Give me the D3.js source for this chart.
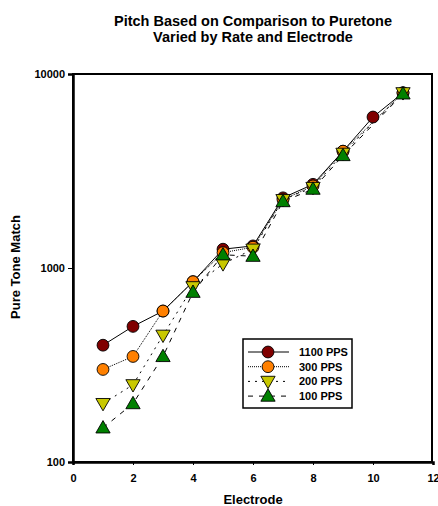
<!DOCTYPE html>
<html>
<head>
<meta charset="utf-8">
<script src="https://cdn.jsdelivr.net/npm/d3@7"></script>
<style>
  html, body { margin: 0; padding: 0; background: #fff; }
  svg { display: block; font-family: "Liberation Sans", Arial, sans-serif; }
</style>
</head>
<body>
<svg id="chart" width="438" height="506"></svg>
<script>
// Pitch matches (Hz) per electrode, one array per stimulation rate
const electrodes1100 = [1, 2, 3, 4, 5, 6, 7, 8, 9, 10, 11];
const match1100 = [400, 500, 600, 850, 1250, 1300, 2300, 2700, 4000, 6000, 8000];
const electrodes300 = [1, 2, 3, 4, 5, 6, 7, 8, 9, 11];
const match300 = [300, 350, 600, 850, 1200, 1280, 2250, 2650, 4000, 8000];
const electrodes200 = [1, 2, 3, 4, 5, 6, 7, 8, 9, 11];
const match200 = [200, 250, 450, 800, 1050, 1250, 2250, 2600, 3900, 8000];
const electrodes100 = [1, 2, 3, 4, 5, 6, 7, 8, 9, 11];
const match100 = [150, 200, 350, 750, 1170, 1150, 2200, 2550, 3800, 7900];

const seriesNames = ["1100 PPS", "300 PPS", "200 PPS", "100 PPS"];
const xTicks = [0, 2, 4, 6, 8, 10, 12];
const yTicks = [100, 1000, 10000];

const series = [
  { name: seriesNames[0], x: electrodes1100, y: match1100, color: "#800000", shape: "circle", dash: null },
  { name: seriesNames[1], x: electrodes300, y: match300, color: "#FF8000", shape: "circle", dash: "1,1" },
  { name: seriesNames[2], x: electrodes200, y: match200, color: "#C8C800", shape: "down", dash: "2,5" },
  { name: seriesNames[3], x: electrodes100, y: match100, color: "#008000", shape: "up", dash: "5,6" }
];

const svg = d3.select("#chart");
const plot = { left: 73, right: 433, top: 74, bottom: 462 };

const x = d3.scaleLinear().domain([0, 12]).range([plot.left, plot.right]);
const y = d3.scaleLog().domain([100, 10000]).range([plot.bottom, plot.top]);

// Title
const title = svg.append("text")
  .attr("x", 253).attr("text-anchor", "middle")
  .attr("font-size", "14.5px").attr("font-weight", "bold");
title.append("tspan").attr("x", 253).attr("y", 26).text("Pitch Based on Comparison to Puretone");
title.append("tspan").attr("x", 253).attr("y", 42).text("Varied by Rate and Electrode");

// Frame (top and right edges)
svg.append("rect")
  .attr("x", plot.left).attr("y", plot.top)
  .attr("width", plot.right - plot.left - 1).attr("height", plot.bottom - plot.top)
  .attr("fill", "none").attr("stroke", "#000").attr("stroke-width", 2);

// Axes
const xAxis = d3.axisBottom(x).tickValues(xTicks).tickSize(3).tickFormat(d3.format("d"));
const yAxis = d3.axisLeft(y).tickValues(yTicks).tickSize(5).tickFormat(d3.format("d"));

const gx = svg.append("g").attr("transform", `translate(0,${plot.bottom})`).call(xAxis);
gx.select(".domain").attr("stroke-width", 2.5);
gx.selectAll(".tick line").attr("stroke-width", 1);
gx.selectAll(".tick text").attr("font-size", "11px").attr("font-weight", "bold")
  .attr("font-family", "Liberation Sans, Arial, sans-serif").attr("dy", "0.71em").attr("y", 12);

const gy = svg.append("g").attr("transform", `translate(${plot.left},0)`).call(yAxis);
gy.select(".domain").attr("stroke-width", 2.5);
gy.selectAll(".tick line").attr("stroke-width", 1);
gy.selectAll(".tick text").attr("font-size", "11px").attr("font-weight", "bold")
  .attr("font-family", "Liberation Sans, Arial, sans-serif").attr("x", -8);

// Axis titles
svg.append("text").attr("x", 253).attr("y", 504).attr("text-anchor", "middle")
  .attr("font-size", "13px").attr("font-weight", "bold").text("Electrode");
svg.append("text").attr("transform", "translate(20,267) rotate(-90)").attr("text-anchor", "middle")
  .attr("font-size", "13px").attr("font-weight", "bold").text("Pure Tone Match");

// Marker shapes
const symbolFor = s => s === "circle" ? d3.symbolCircle : d3.symbolTriangle;
const sizeFor = s => s === "circle" ? 110 : 88;
function drawMarker(g, s, cx, cy) {
  g.append("path")
    .attr("d", d3.symbol().type(symbolFor(s.shape)).size(sizeFor(s.shape))())
    .attr("transform", `translate(${cx},${cy})${s.shape === "down" ? " rotate(180)" : ""}${s.shape !== "circle" ? " translate(0,1)" : ""}`)
    .attr("fill", s.color).attr("stroke", "#000").attr("stroke-width", 0.9);
}

const line = d3.line().x(d => x(d[0])).y(d => y(d[1]));

// Connecting lines first, markers on top
series.forEach(s => {
  const pts = s.x.map((v, i) => [v, s.y[i]]);
  svg.append("path").datum(pts).attr("d", line)
    .attr("fill", "none").attr("stroke", "#000").attr("stroke-width", 1)
    .attr("stroke-dasharray", s.dash);
});
series.forEach(s => {
  const g = svg.append("g");
  s.x.forEach((v, i) => drawMarker(g, s, x(v), y(s.y[i])));
});

// Legend
const lg = svg.append("g");
lg.append("rect").attr("x", 243).attr("y", 339).attr("width", 109).attr("height", 69)
  .attr("fill", "#fff").attr("stroke", "#000").attr("stroke-width", 1.5);
series.forEach((s, i) => {
  const ly = 352 + i * 14.7;
  lg.append("line").attr("x1", 248).attr("x2", 289).attr("y1", ly).attr("y2", ly)
    .attr("stroke", "#000").attr("stroke-width", 1).attr("stroke-dasharray", s.dash);
  drawMarker(lg, s, 268, ly);
  lg.append("text").attr("x", 299).attr("y", ly + 4)
    .attr("font-size", "11px").attr("font-weight", "bold").text(s.name);
});
</script>
</body>
</html>
